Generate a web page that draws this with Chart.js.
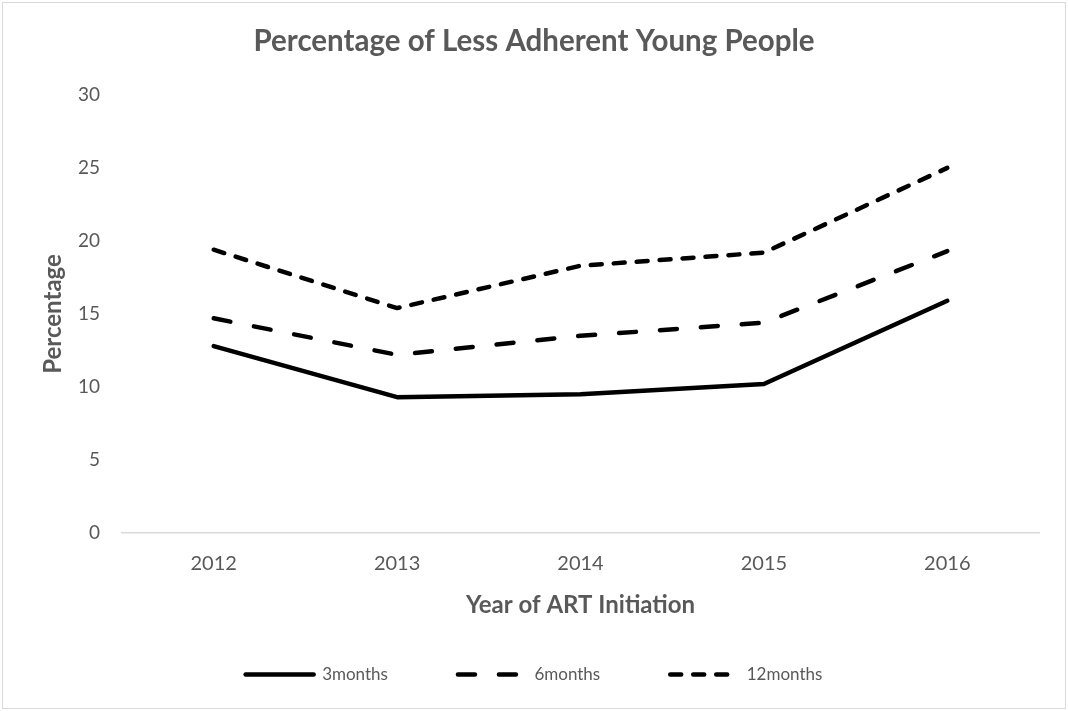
<!DOCTYPE html>
<html>
<head>
<meta charset="utf-8">
<script src="https://cdn.jsdelivr.net/npm/chart.js@4.4.1/dist/chart.umd.min.js"></script>
<style>
    html, body { margin: 0; padding: 0; background: #fff; }
    #wrap {
        position: absolute; left: 2px; top: 2px;
        width: 1062px; height: 705px;
        border: 1px solid #d9d9d9;
    }
</style>
</head>
<body>
<div id="wrap"><canvas id="chart"></canvas></div>
<script>
const years = ['2012', '2013', '2014', '2015', '2016'];
const threeMonths = [12.8, 9.3, 9.5, 10.2, 15.9];
const sixMonths = [14.7, 12.2, 13.5, 14.4, 19.3];
const twelveMonths = [19.4, 15.4, 18.3, 19.2, 25.0];
const yTicks = [0, 5, 10, 15, 20, 25, 30];

const textColor = '#595959';
const fontFamily = 'Lato, "Open Sans", sans-serif';

function lineSet(label, data, dash) {
    return {
        label: label,
        data: data,
        borderColor: '#000',
        backgroundColor: '#000',
        borderWidth: 4.5,
        borderDash: dash,
        borderCapStyle: 'round',
        borderJoinStyle: 'round',
        pointRadius: 0,
        tension: 0,
        fill: false
    };
}

// legend items take the dash of their line
function legendLabels(chart) {
    const items = Chart.defaults.plugins.legend.labels.generateLabels(chart);
    items.forEach(item => {
        const ds = chart.data.datasets[item.datasetIndex];
        item.lineDash = ds.borderDash;
        item.lineCap = 'round';
        item.lineWidth = ds.borderWidth;
        item.strokeStyle = ds.borderColor;
    });
    return items;
}

const ctx = document.getElementById('chart').getContext('2d');
new Chart(ctx, {
    type: 'line',
    data: {
        labels: years,
        datasets: [
            lineSet('3months', threeMonths, []),
            lineSet('6months', sixMonths, [17, 24]),
            lineSet('12months', twelveMonths, [11, 12])
        ]
    },
    options: {
        responsive: true,
        maintainAspectRatio: false,
        animation: false,
        layout: { padding: { left: 0, right: 0, top: 0, bottom: 15 } },
        scales: {
            x: {
                offset: true,
                grid: { display: false, drawTicks: false },
                border: { display: true, color: '#d9d9d9', width: 1.5 },
                ticks: { color: textColor, font: { family: fontFamily, size: 20 }, padding: 19 },
                title: {
                    display: true,
                    text: 'Year of ART Initiation',
                    color: textColor,
                    font: { family: fontFamily, size: 24, weight: 'bold' },
                    padding: { top: 0, bottom: -24 }
                },
                afterFit: scale => { scale.height = 63; }
            },
            y: {
                min: 0,
                max: 30,
                afterBuildTicks: scale => { scale.ticks = yTicks.map(v => ({ value: v })); },
                grid: { display: false, drawTicks: false },
                border: { display: false },
                ticks: { color: textColor, font: { family: fontFamily, size: 19 }, padding: 22 },
                title: {
                    display: true,
                    text: 'Percentage',
                    color: textColor,
                    font: { family: fontFamily, size: 24, weight: 'bold' },
                    padding: { top: 36, bottom: 0 }
                },
                afterFit: scale => { scale.width = 119; }
            },
            // empty right-hand strip so the title stays centred on the page
            yRight: {
                position: 'right',
                display: true,
                grid: { display: false, drawTicks: false },
                border: { display: false },
                ticks: { display: false },
                afterFit: scale => { scale.width = 26; }
            }
        },
        plugins: {
            title: {
                display: true,
                text: 'Percentage of Less Adherent Young People',
                color: textColor,
                font: { family: fontFamily, size: 29.5, weight: 'bold' },
                padding: { top: 21, bottom: 35.5 }
            },
            legend: {
                position: 'bottom',
                labels: {
                    color: textColor,
                    font: { family: fontFamily, size: 17 },
                    usePointStyle: true,
                    pointStyle: 'line',
                    pointStyleWidth: 68,
                    padding: 70,
                    generateLabels: legendLabels
                }
            },
            tooltip: { enabled: false }
        }
    }
});
</script>
</body>
</html>
